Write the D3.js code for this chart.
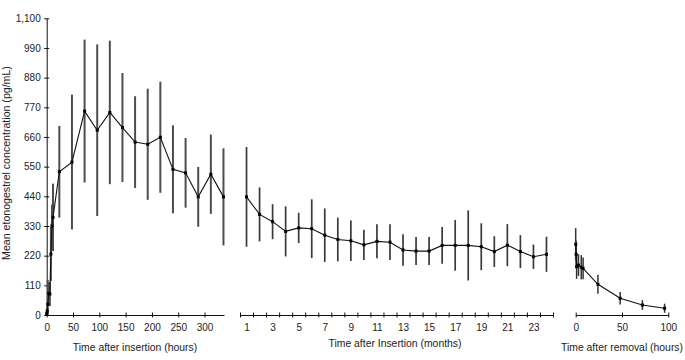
<!DOCTYPE html>
<html>
<head>
<meta charset="utf-8">
<script src="https://cdn.jsdelivr.net/npm/d3@7"></script>
<style>
  html, body { margin: 0; padding: 0; background: #fff; }
  svg { display: block; font-family: "Liberation Sans", Arial, sans-serif; }
</style>
</head>
<body>
<svg id="chart" width="685" height="360"></svg>
<script>
// ---- Data ----
const hoursInsertion = [0, 1, 2, 4, 6, 8, 10, 12, 24, 48, 72, 96, 120, 144, 168, 192, 216, 240, 264, 288, 312, 336];
const concInsertion  = [5, 15, 40, 80, 78, 226, 330, 362, 531, 567, 756, 685, 751, 695, 641, 633, 659, 540, 527, 438, 522, 438];
const errInsertion   = [10, 15, 90, 40, 45, 100, 80, 125, 170, 250, 265, 318, 266, 202, 170, 206, 206, 163, 129, 111, 147, 180];

const months       = [1, 2, 3, 4, 5, 6, 7, 8, 9, 10, 11, 12, 13, 14, 15, 16, 17, 18, 19, 20, 21, 22, 23, 24];
const concMonths   = [438, 373, 346, 310, 323, 320, 296, 280, 275, 260, 273, 270, 241, 237, 237, 258, 258, 258, 253, 235, 259, 235, 216, 225];
const errMonths    = [185, 100, 65, 93, 56, 109, 99, 81, 75, 56, 63, 66, 58, 52, 52, 68, 94, 130, 87, 57, 78, 61, 45, 65];

const hoursRemoval = [0, 0.5, 1, 3, 6, 8, 24, 48, 72, 96];
const concRemoval  = [262, 225, 179, 185, 177, 173, 114, 62, 37, 25];
const errRemoval   = [60, 50, 45, 40, 45, 40, 35, 23, 18, 17];

const yTicks = [0, 110, 220, 330, 440, 550, 660, 770, 880, 990, 1100];
const hourTicks = [0, 50, 100, 150, 200, 250, 300];
const monthLabelTicks = [1, 3, 5, 7, 9, 11, 13, 15, 17, 19, 21, 23];
const monthEdgeTicks = d3.range(0.5, 25, 1);
const removalTicks = [0, 50, 100];

const yTitle = "Mean etonogestrel concentration (pg/mL)";
const xTitles = ["Time after insertion (hours)", "Time after Insertion (months)", "Time after removal (hours)"];

// ---- Layout ----
const svg = d3.select("#chart");
svg.append("rect").attr("width", 685).attr("height", 360).attr("fill", "#fff");

const axisY = 315;
const y = d3.scaleLinear().domain([0, 1100]).range([315, 18.3]);
const x1 = d3.scaleLinear().domain([0, 337]).range([46.7, 224]);
const x2 = d3.scaleLinear().domain([0.5, 24.5]).range([240, 553]);
const x3 = d3.scaleLinear().domain([0, 100]).range([575.7, 668.3]);

const ink = "#111";

function styleAxis(g) {
  g.selectAll("path.domain").attr("stroke", ink).attr("stroke-width", 1);
  g.selectAll(".tick line").attr("stroke", ink).attr("stroke-width", 1);
  g.selectAll(".tick text").attr("fill", "#222").attr("font-size", 10)
    .attr("font-family", "Liberation Sans, Arial, sans-serif");
}

// Y axis
const gy = svg.append("g").attr("transform", "translate(46.7,0)")
  .call(d3.axisLeft(y).tickValues(yTicks).tickFormat(d3.format(",")).tickSizeInner(2.5).tickSizeOuter(0).tickPadding(4));
styleAxis(gy);
gy.selectAll(".tick line").attr("x1", 2.5).attr("x2", -2.5);
gy.selectAll(".tick text").attr("x", -6);

// X axes
function xAxis(scale, ticks, fmt) {
  const g = svg.append("g").attr("transform", `translate(0,${axisY})`)
    .call(d3.axisBottom(scale).tickValues(ticks).tickFormat(fmt).tickSizeInner(2.5).tickSizeOuter(0).tickPadding(6));
  styleAxis(g);
  g.selectAll(".tick line").attr("y1", -2.5).attr("y2", 2.5);
  return g;
}
xAxis(x1, hourTicks, d3.format("d"));
xAxis(x2, monthEdgeTicks, () => "");
const gml = svg.append("g").attr("transform", `translate(0,${axisY})`)
  .call(d3.axisBottom(x2).tickValues(monthLabelTicks).tickFormat(d3.format("d")).tickSize(0).tickPadding(8.5));
styleAxis(gml);
gml.select("path.domain").remove();
xAxis(x3, removalTicks, d3.format("d"));

// Titles
svg.append("text")
  .attr("transform", "translate(10,163) rotate(-90)")
  .attr("text-anchor", "middle")
  .attr("font-size", 10.6).attr("fill", "#222")
  .text(yTitle);

const titleX = [135, 395, 622];
const titleY = [351, 347, 351];
xTitles.forEach((t, i) => {
  svg.append("text")
    .attr("x", titleX[i]).attr("y", titleY[i])
    .attr("text-anchor", "middle")
    .attr("font-size", 10.4).attr("fill", "#222")
    .text(t);
});

// ---- Series ----
function drawSeries(xs, vals, errs, xScale, errColor, errWidth) {
  const data = xs.map((d, i) => ({ x: d, v: vals[i], e: errs[i] }));
  const g = svg.append("g");
  g.selectAll("line.err").data(data).join("line").attr("class", "err")
    .attr("x1", d => xScale(d.x)).attr("x2", d => xScale(d.x))
    .attr("y1", d => y(Math.max(0, d.v - d.e))).attr("y2", d => y(d.v + d.e))
    .attr("stroke", errColor).attr("stroke-width", errWidth);
  g.append("path").datum(data)
    .attr("d", d3.line().x(d => xScale(d.x)).y(d => y(d.v)))
    .attr("fill", "none").attr("stroke", ink).attr("stroke-width", 1.1);
  g.selectAll("rect.pt").data(data).join("rect").attr("class", "pt")
    .attr("x", d => xScale(d.x) - 1.5).attr("y", d => y(d.v) - 1.5)
    .attr("width", 3).attr("height", 3).attr("fill", "#000");
}
drawSeries(hoursInsertion, concInsertion, errInsertion, x1, "#4d4d4d", 2);
drawSeries(months, concMonths, errMonths, x2, "#3a3a3a", 1.7);
drawSeries(hoursRemoval, concRemoval, errRemoval, x3, "#333", 1.5);
</script>
</body>
</html>
